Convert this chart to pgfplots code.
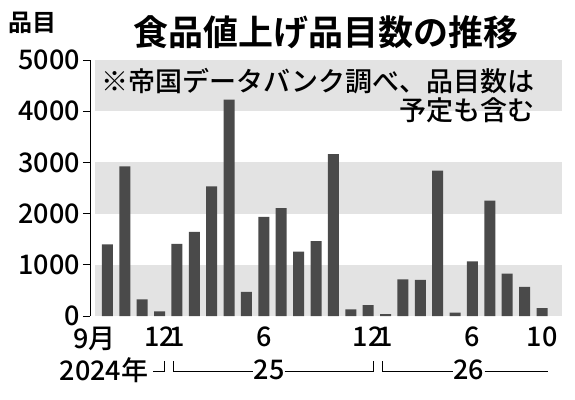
\documentclass[border=0pt]{standalone}
\usepackage{fontspec}
\setmainfont{Noto Sans CJK JP}[UprightFont={* Medium}, BoldFont={* Bold}]
\usepackage{pgfplots}
\pgfplotsset{compat=1.18}
\definecolor{barcol}{HTML}{4A4A4A}
\definecolor{bandcol}{HTML}{E3E3E3}
\begin{document}
\begin{tikzpicture}
\begin{axis}[
  at={(0,0)}, anchor=south west,
  scale only axis, width=472bp, height=256bp,
  xmin=-1, xmax=26.15, ymin=0, ymax=5000,
  axis lines=left,
  x axis line style={draw=none},
  y axis line style={-, line width=0.9bp},
  set layers, clip=false,
  ytick={0,1000,2000,3000,4000,5000},
  tick align=outside,
  ytick style={black, line width=0.9bp},
  major tick length=7bp,
  xtick={-0.75,3,4,9,15,16,21,25},
  xticklabels={9月,12,1,6,12,1,6,10},
  xtick style={draw=none},
  scaled y ticks=false,
  /pgf/number format/1000 sep={},
  /pgf/number format/assume math mode=true,
  tick label style={font=\fontsize{27bp}{27bp}\selectfont},
  yticklabel style={inner sep=0pt, xshift=-3bp},
  xticklabel style={inner sep=0pt, yshift=-4bp},
]
\fill[bandcol, on layer=axis background] (axis cs:-0.7,0) rectangle (axis cs:26.15,1000);
\fill[bandcol, on layer=axis background] (axis cs:-0.7,2000) rectangle (axis cs:26.15,3000);
\fill[bandcol, on layer=axis background] (axis cs:-0.7,4000) rectangle (axis cs:26.15,5000);
\addplot[ybar, bar width=11bp, bar shift=0pt, fill=barcol, draw=none] coordinates {
 (0,1400) (1,2920) (2,325) (3,90)
 (4,1410) (5,1645) (6,2530) (7,4225) (8,470) (9,1935) (10,2105) (11,1255)
 (12,1460) (13,3160) (14,130) (15,210)
 (16,35) (17,715) (18,705) (19,2840) (20,65) (21,1065) (22,2255) (23,830) (24,570) (25,155)
};
\node[font=\fontsize{27bp}{27bp}\selectfont, anchor=east] at (axis cs:24.77,4590) {※帝国データバンク調べ、品目数は};
\node[font=\fontsize{27bp}{27bp}\selectfont, anchor=east] at (axis cs:24.77,4010) {予定も含む};
% title and unit
\node[font=\bfseries\fontsize{35bp}{35bp}\selectfont, yshift=28bp] at (rel axis cs:0.5,1) {食品値上げ品目数の推移};
\node[font=\bfseries\fontsize{24bp}{24bp}\selectfont, xshift=-57bp, yshift=37bp] at (rel axis cs:0,1) {品目};
% year row
\node[font=\fontsize{27bp}{27bp}\selectfont, anchor=east, inner sep=0pt, yshift=-54bp] at (axis cs:2.36,0) {2024年};
\draw[line width=0.8bp] ([yshift=-55bp]axis cs:2.64,0) -- ([yshift=-55bp]axis cs:3.3,0) -- ([yshift=-45bp]axis cs:3.3,0);
\draw[line width=0.8bp] ([yshift=-45bp]axis cs:3.8,0) -- ([yshift=-55bp]axis cs:3.8,0) -- ([yshift=-55bp]axis cs:8.4,0);
\node[font=\fontsize{27bp}{27bp}\selectfont, inner sep=0pt, yshift=-54bp] at (axis cs:9.3,0) {25};
\draw[line width=0.8bp] ([yshift=-55bp]axis cs:10.2,0) -- ([yshift=-55bp]axis cs:15.3,0) -- ([yshift=-45bp]axis cs:15.3,0);
\draw[line width=0.8bp] ([yshift=-45bp]axis cs:15.8,0) -- ([yshift=-55bp]axis cs:15.8,0) -- ([yshift=-55bp]axis cs:19.9,0);
\node[font=\fontsize{27bp}{27bp}\selectfont, inner sep=0pt, yshift=-54bp] at (axis cs:20.8,0) {26};
\draw[line width=0.8bp] ([yshift=-55bp]axis cs:21.7,0) -- ([yshift=-55bp]axis cs:25.35,0);
\end{axis}
\pgfresetboundingbox
\path[use as bounding box] (-90bp,-84bp) rectangle (485bp,316bp);
\end{tikzpicture}
\end{document}
